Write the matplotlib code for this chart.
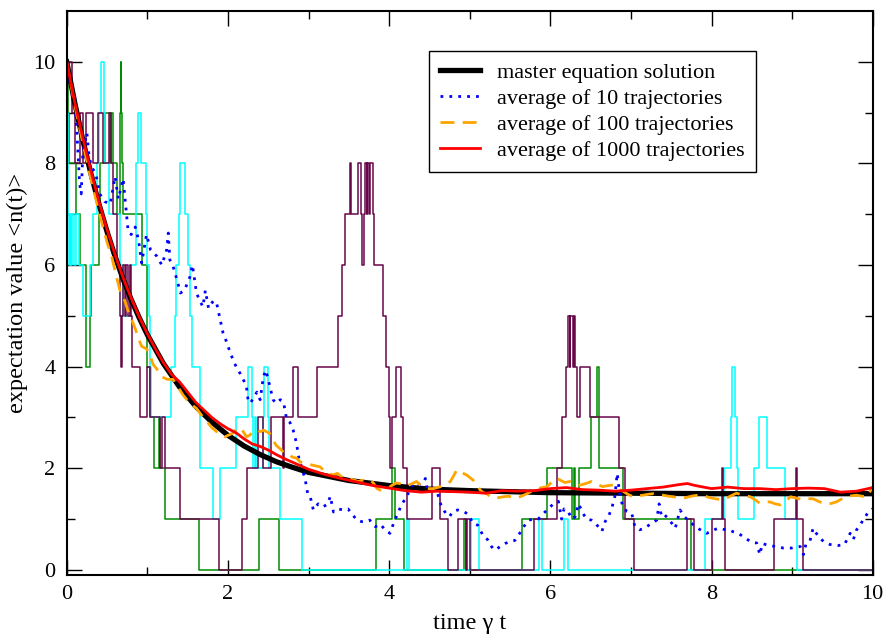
import numpy as np
import matplotlib.pyplot as plt

plt.rcParams['font.family'] = ['Liberation Serif', 'DejaVu Serif']
plt.rcParams['font.size'] = 16

# single quantum trajectories: jump times and photon number after the jump
green_t = [0.00, 0.01, 0.03, 0.11, 0.17, 0.24, 0.245, 0.29, 0.30, 0.40, 0.41, 0.48, 0.54, 0.545, 0.58,
           0.62, 0.66, 0.665, 0.67, 0.675, 0.69, 0.70, 0.93, 0.995, 1.00, 1.03, 1.088, 1.15, 1.16, 1.22,
           1.64, 2.39, 2.63, 3.84, 4.03, 4.07, 4.19, 4.93, 4.95, 5.65, 5.96, 6.27, 6.29, 6.31, 6.36,
           6.50, 6.58, 6.60, 6.61, 6.90, 7.75]
green_n = [10, 9, 8, 7, 6, 5, 4, 5, 6, 7, 8, 9, 8, 9, 8,
           7, 8, 9, 10, 9, 8, 7, 6, 5, 4, 3, 2, 3, 2, 1,
           0, 1, 0, 1, 2, 1, 0, 1, 0, 1, 2, 1, 2, 1, 2,
           3, 4, 3, 2, 1, 0]

cyan_t = [0.00, 0.005, 0.01, 0.015, 0.03, 0.04, 0.055, 0.07, 0.09, 0.12, 0.15, 0.20, 0.29, 0.33, 0.37,
          0.40, 0.42, 0.46, 0.47, 0.53, 0.66, 0.70, 0.78, 0.86, 0.865, 0.89, 0.92, 0.98, 1.00, 1.02,
          1.03, 1.05, 1.30, 1.34, 1.36, 1.39, 1.41, 1.47, 1.50, 1.53, 1.55, 1.65, 1.655, 1.82, 1.90,
          2.10, 2.25, 2.30, 2.31, 2.33, 2.35, 2.44, 2.45, 2.50, 2.51, 2.65, 2.92, 4.22, 4.25, 5.02,
          5.12, 5.86, 5.90, 6.17, 6.22, 7.92, 8.15, 8.24, 8.25, 8.29, 8.32, 8.33, 8.53, 8.59, 8.69,
          8.91, 9.06]
cyan_n = [10, 9, 8, 7, 6, 7, 6, 7, 6, 7, 6, 5, 6, 7, 8,
          9, 10, 9, 8, 7, 6, 5, 6, 7, 8, 9, 8, 7, 6, 5,
          4, 3, 4, 5, 6, 7, 8, 7, 6, 5, 4, 3, 2, 1, 2,
          3, 4, 3, 2, 3, 2, 3, 4, 3, 2, 1, 0, 1, 0, 1,
          0, 1, 0, 1, 0, 1, 2, 3, 4, 3, 2, 1, 2, 3, 2,
          1, 0]

purple_t = [0.00, 0.07, 0.10, 0.17, 0.20, 0.24, 0.32, 0.39, 0.45, 0.53, 0.55, 0.58, 0.62, 0.66, 0.67,
            0.69, 0.70, 0.72, 0.74, 0.76, 0.78, 0.80, 0.81, 0.91, 0.99, 1.03, 1.16, 1.18, 1.22, 1.40,
            1.89, 2.18, 2.24, 2.37, 2.43, 2.54, 2.68, 2.70, 2.81, 2.87, 3.10, 3.37, 3.42, 3.45, 3.51,
            3.53, 3.62, 3.65, 3.66, 3.69, 3.70, 3.72, 3.73, 3.75, 3.76, 3.80, 3.81, 3.93, 3.96, 4.00,
            4.01, 4.03, 4.08, 4.15, 4.17, 4.22, 4.53, 4.63, 4.73, 4.85, 4.95, 4.97, 5.00, 5.80, 6.08,
            6.15, 6.20, 6.22, 6.24, 6.25, 6.28, 6.29, 6.31, 6.33, 6.37, 6.49, 6.85, 6.93, 7.04, 7.69,
            7.78, 8.00, 8.13, 8.14, 8.17, 8.78, 9.05, 9.06, 9.14]
purple_n = [10, 9, 8, 9, 8, 9, 8, 9, 8, 9, 8, 7, 6, 5, 4,
            5, 6, 5, 6, 5, 6, 5, 4, 3, 4, 3, 2, 3, 2, 1,
            0, 1, 2, 3, 2, 3, 2, 3, 4, 3, 4, 5, 6, 7, 8,
            7, 8, 7, 6, 7, 8, 7, 8, 7, 8, 7, 6, 5, 4, 3,
            2, 3, 4, 3, 2, 1, 2, 1, 0, 1, 0, 1, 0, 1, 2,
            3, 4, 5, 4, 5, 4, 5, 4, 3, 4, 3, 2, 1, 0, 1,
            0, 1, 2, 1, 0, 1, 2, 1, 0]

# master equation solution
master_t = [0, 0.1, 0.2, 0.3, 0.4, 0.5, 0.6, 0.7, 0.8, 0.9, 1.0, 1.2, 1.4, 1.6, 1.8, 2.0, 2.2, 2.4,
            2.6, 2.8, 3.0, 3.5, 4.0, 4.5, 5.0, 5.5, 6.0, 7.0, 8.0, 9.0, 10.0]
master_n = [10.00, 9.19, 8.46, 7.80, 7.20, 6.66, 6.17, 5.72, 5.32, 4.96, 4.63, 4.06, 3.60, 3.22, 2.91,
            2.65, 2.44, 2.27, 2.13, 2.02, 1.92, 1.76, 1.66, 1.59, 1.56, 1.54, 1.52, 1.51, 1.50, 1.50, 1.50]

# average of 10 trajectories
avg10_t = [0, 0.03, 0.06, 0.1, 0.13, 0.16, 0.18, 0.2, 0.25, 0.28, 0.32, 0.36, 0.41, 0.47, 0.54, 0.6,
           0.64, 0.7, 0.73, 0.76, 0.8, 0.85, 0.89, 0.93, 0.99, 1.04, 1.12, 1.18, 1.24, 1.26, 1.28, 1.32,
           1.37, 1.41, 1.46, 1.53, 1.56, 1.61, 1.65, 1.69, 1.72, 1.76, 1.82, 1.86, 1.90, 1.94, 1.98,
           2.03, 2.08, 2.12, 2.15, 2.19, 2.23, 2.25, 2.28, 2.32, 2.36, 2.40, 2.44, 2.47, 2.50, 2.53,
           2.56, 2.60, 2.65, 2.69, 2.73, 2.77, 2.81, 2.85, 2.88, 2.92, 2.96, 2.99, 3.02, 3.06, 3.12,
           3.18, 3.24, 3.27, 3.31, 3.37, 3.43, 3.49, 3.54, 3.6, 3.66, 3.71, 3.76, 3.83, 3.89, 3.95,
           4.01, 4.07, 4.11, 4.16, 4.22, 4.26, 4.3, 4.36, 4.42, 4.45, 4.47, 4.53, 4.59, 4.65, 4.71,
           4.75, 4.79, 4.85, 4.92, 4.98, 5.04, 5.1, 5.17, 5.22, 5.27, 5.31, 5.38, 5.44, 5.5, 5.56,
           5.62, 5.67, 5.73, 5.79, 5.85, 5.91, 5.97, 6.04, 6.1, 6.14, 6.17, 6.22, 6.27, 6.31, 6.35,
           6.41, 6.45, 6.51, 6.57, 6.64, 6.68, 6.72, 6.76, 6.8, 6.83, 6.86, 6.9, 6.95, 7.01, 7.05,
           7.11, 7.17, 7.24, 7.32, 7.35, 7.38, 7.42, 7.48, 7.55, 7.61, 7.66, 7.71, 7.8, 7.85, 7.94,
           8.02, 8.08, 8.14, 8.21, 8.27, 8.33, 8.39, 8.48, 8.56, 8.6, 8.63, 8.67, 8.73, 8.79, 8.84,
           8.89, 8.94, 8.99, 9.05, 9.1, 9.14, 9.17, 9.22, 9.26, 9.3, 9.35, 9.39, 9.47, 9.57, 9.65,
           9.72, 9.76, 9.8, 9.85, 9.88, 9.95, 10.0]
avg10_n = [10, 9.7, 9.5, 9.3, 8.5, 7.6, 7.4, 8.2, 8.6, 8.1, 7.9, 7.8, 7.4, 7.25, 7.2, 7.74,
           7.3, 7.7, 7.2, 6.7, 6.6, 6.75, 6.5, 6.04, 6.6, 6.3, 6.17, 6.0, 6.3, 6.63, 6.1, 5.97,
           5.7, 5.45, 5.5, 5.77, 6.0, 5.45, 5.3, 5.18, 5.5, 5.15, 5.3, 5.25, 4.95, 4.66, 4.5,
           4.27, 4.07, 3.95, 3.87, 3.75, 3.6, 3.35, 3.28, 3.4, 3.5, 3.35, 3.8, 3.93, 3.75, 3.55,
           3.35, 3.28, 3.35, 3.3, 2.95, 2.9, 2.75, 2.5, 2.2, 2.0, 1.77, 1.5, 1.45, 1.18, 1.3,
           1.24, 1.3, 1.45, 1.14, 1.2, 1.18, 1.2, 1.1, 0.98, 0.95, 0.95, 0.98, 0.85, 0.9, 0.79,
           0.72, 0.98, 1.12, 1.3, 1.44, 1.6, 1.71, 1.68, 1.71, 1.8, 1.6, 1.62, 1.57, 1.24, 1.1,
           1.05, 1.15, 1.18, 1.15, 1.1, 0.92, 0.88, 0.66, 0.6, 0.46, 0.39, 0.46, 0.52, 0.56, 0.58,
           0.72, 0.85, 0.98, 1.0, 1.0, 1.1, 1.2, 1.3, 1.35, 1.0, 1.2, 1.15, 1.0, 1.05, 1.3,
           1.1, 1.0, 0.98, 0.9, 0.76, 0.95, 1.05, 1.2, 1.44, 1.9, 1.5, 1.24, 1.15, 1.11, 0.85,
           0.79, 0.82, 0.9, 0.98, 1.3, 1.05, 1.08, 0.98, 0.82, 1.18, 1.05, 0.98, 0.85, 0.8, 0.72,
           0.78, 0.82, 0.8, 0.79, 0.75, 0.72, 0.66, 0.56, 0.53, 0.3, 0.52, 0.5, 0.48, 0.46, 0.45,
           0.43, 0.43, 0.43, 0.45, 0.46, 0.3, 0.5, 0.56, 0.82, 0.72, 0.62, 0.56, 0.5, 0.48, 0.5,
           0.72, 0.6, 0.79, 0.9, 0.98, 1.15, 1.2]

# average of 100 trajectories
avg100_t = [0, 0.1, 0.2, 0.3, 0.4, 0.5, 0.56, 0.62, 0.66, 0.72, 0.76, 0.8, 0.85, 0.89, 0.93, 0.99,
            1.03, 1.07, 1.12, 1.18, 1.25, 1.32, 1.38, 1.44, 1.49, 1.55, 1.61, 1.67, 1.74, 1.8, 1.86,
            1.9, 1.96, 2.02, 2.07, 2.11, 2.15, 2.19, 2.23, 2.27, 2.31, 2.36, 2.4, 2.44, 2.48, 2.52,
            2.56, 2.6, 2.65, 2.7, 2.75, 2.8, 2.85, 2.9, 2.95, 3.02, 3.08, 3.14, 3.2, 3.25, 3.3, 3.36,
            3.42, 3.48, 3.56, 3.62, 3.7, 3.76, 3.8, 3.85, 3.89, 3.97, 4.03, 4.09, 4.13, 4.2, 4.26,
            4.34, 4.38, 4.42, 4.48, 4.55, 4.62, 4.69, 4.76, 4.8, 4.84, 4.88, 4.92, 4.96, 5.0, 5.04,
            5.09, 5.13, 5.17, 5.21, 5.25, 5.29, 5.35, 5.42, 5.48, 5.53, 5.58, 5.64, 5.71, 5.77, 5.83,
            5.9, 5.96, 6.0, 6.04, 6.08, 6.12, 6.18, 6.24, 6.3, 6.37, 6.44, 6.51, 6.58, 6.65, 6.72,
            6.78, 6.84, 6.91, 6.97, 7.03, 7.09, 7.15, 7.22, 7.28, 7.34, 7.4, 7.47, 7.53, 7.59, 7.65,
            7.72, 7.78, 7.84, 7.9, 7.96, 8.02, 8.08, 8.15, 8.23, 8.31, 8.39, 8.48, 8.54, 8.6, 8.66,
            8.72, 8.79, 8.85, 8.92, 8.98, 9.06, 9.14, 9.2, 9.26, 9.34, 9.43, 9.49, 9.55, 9.62, 9.68,
            9.74, 9.8, 9.87, 9.93, 9.97, 10.0]
avg100_n = [10, 9.15, 8.4, 7.7, 7.05, 6.45, 6.15, 5.75, 5.5, 5.3, 5.1, 4.95, 4.75, 4.55, 4.4, 4.35,
            4.25, 4.05, 3.95, 3.8, 3.75, 3.75, 3.6, 3.45, 3.35, 3.25, 3.18, 3.05, 2.92, 2.8, 2.72,
            2.68, 2.62, 2.66, 2.7, 2.78, 2.8, 2.72, 2.62, 2.65, 2.72, 2.76, 2.72, 2.75, 2.72, 2.68,
            2.55, 2.45, 2.38, 2.3, 2.28, 2.22, 2.2, 2.12, 2.1, 2.07, 2.05, 2.03, 1.95, 1.9, 1.87, 1.9,
            1.82, 1.8, 1.77, 1.74, 1.78, 1.76, 1.72, 1.6, 1.57, 1.57, 1.66, 1.71, 1.7, 1.65, 1.68,
            1.74, 1.68, 1.64, 1.6, 1.6, 1.63, 1.66, 1.74, 1.85, 1.97, 1.93, 1.9, 1.87, 1.82, 1.77,
            1.68, 1.57, 1.52, 1.5, 1.45, 1.41, 1.42, 1.44, 1.45, 1.43, 1.41, 1.45, 1.5, 1.55, 1.6,
            1.62, 1.64, 1.7, 1.77, 1.8, 1.77, 1.72, 1.74, 1.7, 1.67, 1.7, 1.74, 1.68, 1.64, 1.66,
            1.67, 1.6, 1.54, 1.48, 1.44, 1.46, 1.47, 1.49, 1.5, 1.48, 1.47, 1.45, 1.44, 1.42, 1.41,
            1.44, 1.46, 1.47, 1.47, 1.43, 1.41, 1.39, 1.38, 1.45, 1.51, 1.47, 1.44, 1.38, 1.31, 1.33,
            1.34, 1.3, 1.28, 1.36, 1.44, 1.41, 1.38, 1.4, 1.4, 1.34, 1.29, 1.31, 1.34, 1.4, 1.44,
            1.46, 1.47, 1.45, 1.44, 1.55, 1.64]

# average of 1000 trajectories
avg1000_t = [0, 0.1, 0.2, 0.3, 0.4, 0.5, 0.6, 0.7, 0.8, 0.9, 1.0, 1.1, 1.2, 1.3, 1.4, 1.5, 1.6, 1.7,
             1.8, 1.9, 2.0, 2.1, 2.2, 2.3, 2.4, 2.5, 2.6, 2.7, 2.8, 2.9, 3.0, 3.2, 3.4, 3.6, 3.8, 4.0,
             4.2, 4.4, 4.6, 4.8, 5.0, 5.2, 5.4, 5.6, 5.8, 6.0, 6.2, 6.4, 6.6, 6.8, 7.0, 7.2, 7.4, 7.6,
             7.7, 7.8, 8.0, 8.2, 8.4, 8.6, 8.8, 9.0, 9.2, 9.4, 9.6, 9.8, 10.0]
avg1000_n = [10, 9.2, 8.5, 7.85, 7.25, 6.7, 6.2, 5.75, 5.35, 4.98, 4.65, 4.35, 4.08, 3.85, 3.7, 3.5,
             3.3, 3.15, 3.0, 2.88, 2.78, 2.7, 2.58, 2.48, 2.43, 2.36, 2.27, 2.19, 2.12, 2.05, 1.98,
             1.88, 1.8, 1.73, 1.66, 1.61, 1.56, 1.53, 1.55, 1.54, 1.53, 1.51, 1.56, 1.55, 1.56, 1.6,
             1.62, 1.58, 1.57, 1.55, 1.57, 1.6, 1.63, 1.68, 1.7, 1.66, 1.6, 1.63, 1.6, 1.6, 1.58,
             1.6, 1.61, 1.6, 1.53, 1.55, 1.62]

t_end = 10.0

fig = plt.figure(figsize=(8.86, 6.35), dpi=100)
ax = fig.add_axes([0.0753, 0.0945, 0.9097, 0.8882])

# trajectories drawn as steps that hold the last value up to the end
for tt, nn, col in [(green_t, green_n, '#008b00'), (cyan_t, cyan_n, '#00ffff'), (purple_t, purple_n, '#670748')]:
    ax.plot(tt + [t_end], nn + [nn[-1]], drawstyle='steps-post', color=col, lw=1.1)

ax.plot(master_t, master_n, color='black', lw=3.8, label='master equation solution')
ax.plot(avg10_t, avg10_n, color='blue', lw=2.0, dashes=(1, 2.2), label='average of 10 trajectories')
ax.plot(avg100_t, avg100_n, color='orange', lw=2.0, dashes=(5, 3), label='average of 100 trajectories')
ax.plot(avg1000_t, avg1000_n, color='red', lw=2.0, label='average of 1000 trajectories')

ax.set_xlim(0, 10)
ax.set_ylim(-0.1, 11.0)
ax.set_xticks([0, 2, 4, 6, 8, 10])
ax.set_xticks([1, 3, 5, 7, 9], minor=True)
ax.set_yticks([0, 2, 4, 6, 8, 10])
ax.set_yticks([1, 3, 5, 7, 9], minor=True)
ax.tick_params(which='both', direction='in', top=True, right=True, width=1.0)
ax.tick_params(which='major', length=11)
ax.tick_params(which='minor', length=5.5)
ax.tick_params(axis='x', pad=7)
ax.tick_params(axis='y', pad=8)
for s in ax.spines.values():
    s.set_linewidth(1.5)

ax.set_xlabel('time γ t', fontsize=17.5, labelpad=7)
ax.set_ylabel('expectation value <n(t)>', fontsize=17.5, labelpad=4)

leg = ax.legend(loc='upper left', bbox_to_anchor=(0.4495, 0.929), borderaxespad=0, fontsize=16,
                handlelength=1.8, handletextpad=0.75, labelspacing=0.25, borderpad=0.5,
                fancybox=False, framealpha=1)
leg.get_frame().set_edgecolor('black')
leg.get_frame().set_linewidth(1.0)

fig.savefig('out.png', dpi=100)
